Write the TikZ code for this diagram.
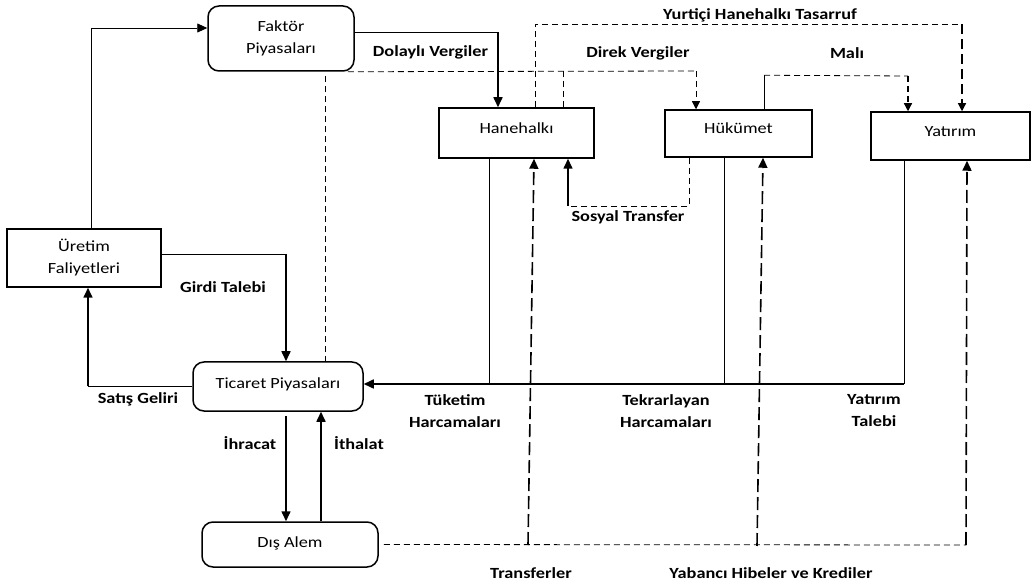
\documentclass[tikz,border=0pt]{standalone}
\usepackage{fontspec}
\setmainfont{Carlito}[FakeStretch=1.18]
\usetikzlibrary{arrows.meta}
\begin{document}
\begin{tikzpicture}[x=1pt,y=-1pt,
  font=\fontsize{15.5}{22}\selectfont,
  box/.style={draw, line width=1.5pt, inner sep=0pt, align=center},
  rbox/.style={box, rounded corners=11pt},
  lbl/.style={font=\fontsize{15.5}{22}\selectfont\bfseries, align=center, inner sep=0pt},
  ln/.style={line width=0.8pt},
  thk/.style={line width=1.6pt},
  dsh/.style={line width=0.8pt, dash pattern=on 6pt off 4pt},
  dshk/.style={line width=1.6pt, dash pattern=on 13pt off 5pt},
  tip/.style={-{Triangle[length=10pt,width=9pt]}},
  stip/.style={-{Triangle[length=8pt,width=8pt]}}]
\useasboundingbox (0,0) rectangle (1034,585);

% boxes
\node[rbox, minimum width=146pt, minimum height=65pt] (fak) at (281,38.5) {Faktör\\Piyasaları};
\node[box, minimum width=155pt, minimum height=50pt, text height=11pt, text depth=10pt] (hane) at (516.5,133) {Hanehalkı};
\node[box, minimum width=147pt, minimum height=47pt, text height=11pt, text depth=10pt] (huk) at (738.5,133.5) {Hükümet};
\node[box, minimum width=159pt, minimum height=48pt, text height=11pt, text depth=10pt] (yat) at (950.5,136) {Yatırım};
\node[box, minimum width=154pt, minimum height=58pt] (ure) at (84,258) {Üretim\\Faliyetleri};
\node[rbox, minimum width=170pt, minimum height=49pt, text height=11pt, text depth=7pt] (tic) at (278,386.5) {Ticaret Piyasaları};
\node[rbox, minimum width=176pt, minimum height=45pt, text height=11pt, text depth=5pt] (dis) at (290,544.5) {Dış Alem};

% coordinates for corners
\coordinate (dvc) at (498,32);
\coordinate (dkl) at (325,71);
\coordinate (dkc) at (696,71);
\coordinate (ytc) at (962,24);
\coordinate (mlc) at (908,76);
\coordinate (stc) at (689,206);
\coordinate (stl) at (568,206);
\coordinate (mr) at (904,384);
\coordinate (sgc) at (88,386.5);
\coordinate (gtc) at (286,254);
\coordinate (dar) at (966,545);
\coordinate (trb) at (528,545);
\coordinate (ybb) at (757,546);

% Uretim -> Faktor
\draw[ln, tip] ([xshift=7pt]ure.north) |- ([yshift=10.5pt]fak.west);
% Dolayli Vergiler
\draw[ln] ([yshift=6.5pt]fak.east) -- (dvc);
\draw[thk, tip] (dvc) -- ([xshift=-18.5pt]hane.north);
% Direk Vergiler
\draw[dsh] ([xshift=47pt,yshift=-1pt]tic.north) -- ([yshift=-5pt]dkl);
\draw[dsh] ([xshift=-7pt]fak.south east) -- (dkc);
\draw[dsh] ([xshift=46.5pt]hane.north) -- ++(0,-37);
\draw[dsh, stip] (dkc) -- ([xshift=-42.5pt]huk.north);
% Yurtici Hanehalki Tasarruf
\draw[dsh] ([xshift=18.5pt]hane.north) |- (ytc);
\draw[dsh, line width=1.2pt, dash pattern=on 10pt off 5pt, stip] (ytc) -- ([xshift=11.5pt]yat.north);
% Mali
\draw[ln] ([xshift=25.5pt]huk.north) -- ++(0,-34) coordinate (mll);
\draw[dsh] (mll) -- (mlc);
\draw[dsh, line width=1.2pt, stip] (mlc) -- ([xshift=-42.5pt]yat.north);
% Sosyal Transfer
\draw[dsh] ([xshift=-49.5pt]huk.south) |- (stl);
\draw[thk, tip] (stl) -- ([xshift=51.5pt]hane.south);
% Harcamalar -> Ticaret
\draw[ln] ([xshift=-27.5pt]hane.south) -- ++(0,226);
\draw[ln] ([xshift=-14.5pt]huk.south) -- ++(0,226.5);
\draw[ln] ([xshift=-46.5pt]yat.south) -- (mr);
\draw[thk, tip] (mr) -- ([yshift=2.5pt]tic.east);
% Satis Geliri
\draw[ln] (tic.west) -- (sgc);
\draw[thk, tip] (sgc) -- ([xshift=4pt]ure.south);
% Girdi Talebi
\draw[ln] ([yshift=4pt]ure.east) -- (gtc);
\draw[thk, tip] (gtc) -- ([xshift=8pt]tic.north);
% Ihracat / Ithalat
\draw[thk, tip] ([xshift=8pt,yshift=-4pt]tic.south) -- ([xshift=-4pt]dis.north);
\draw[thk, tip] ([xshift=31pt]dis.north) -- ([xshift=43pt]tic.south);
% Dis Alem transfers
\draw[dsh] ([xshift=5pt]dis.east) -- (dar);
\draw[dshk, tip] (trb) -- ([xshift=17.5pt]hane.south);
\draw[dshk, tip] (ybb) -- ([xshift=24.5pt]huk.south);
\draw[dshk, tip] (dar) -- ([xshift=16.5pt]yat.south);

% labels
\node[lbl] (l1) at (430.5,52) {Dolaylı Vergiler};
\node[lbl] (l2) at (638,53) {Direk Vergiler};
\node[lbl] (l3) at (847,53) {Malı};
\node[lbl] (l4) at (760,15) {Yurtiçi Hanehalkı Tasarruf};
\node[lbl] (l5) at (628,217) {Sosyal Transfer};
\node[lbl] (l6) at (223,287) {Girdi Talebi};
\node[lbl] (l7) at (138,399) {Satış Geliri};
\node[lbl] (l8) at (250,443) {İhracat};
\node[lbl] (l9) at (359,443) {İthalat};
\node[lbl] (l10) at (455,411) {Tüketim\\Harcamaları};
\node[lbl] (l11) at (666,411) {Tekrarlayan\\Harcamaları};
\node[lbl] (l12) at (874,411) {Yatırım\\Talebi};
\node[lbl] (l13) at (531,573) {Transferler};
\node[lbl] (l14) at (771,573) {Yabancı Hibeler ve Krediler};
\end{tikzpicture}
\end{document}
